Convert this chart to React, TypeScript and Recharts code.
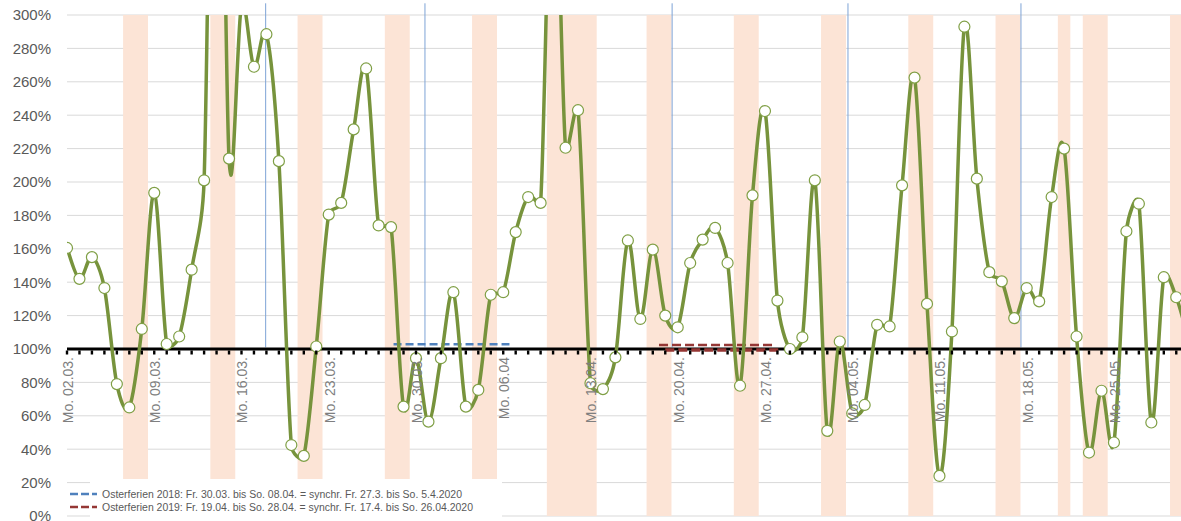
import React from "react";
import {
  ComposedChart,
  Line,
  XAxis,
  YAxis,
  CartesianGrid,
  ReferenceArea,
  ReferenceLine,
} from "recharts";

// chart box
const W = 1181;
const H = 521;
const TOP = 15;
const BOTTOM_GAP = 5;
const Y_AXIS_W = 67;
const PLOT_H = H - TOP - BOTTOM_GAP;
const Y_MAX = 300;
const AXIS_CROSS = 100; // x axis crosses at 100 %
const X_MAX = 89.38; // visible day window (chart is cut at the right)

const FONT = "'Liberation Sans', Arial, sans-serif";

// daily ratio in %, day 0 = Mo. 02.03.2020
const ratio = [
  160.5, 142, 155, 136.5, 79, 65, 112, 193.5, 103, 107.5, 147.5, 201, 600, 214,
  306, 269, 288.5, 212.5, 42.5, 36, 101.5, 180.5, 187.5, 231.5, 268, 174, 173,
  65.5, 94.5, 56.5, 94.5, 134, 65.5, 75.5, 132.5, 134, 170, 191, 187.5, 425,
  220.5, 243, 79.5, 76, 95, 165, 118, 159.5, 120, 113, 151.5, 165.5, 172.5,
  151.5, 78, 192, 242.5, 129, 100, 107, 201, 51, 104.5, 61.5, 66.5, 114.5,
  113.5, 198, 262.5, 127, 24, 110.5, 293, 202, 146, 140.5, 118.5, 136.5, 128.5,
  191, 220, 107.5, 38, 75, 44, 170.5, 187, 56, 143, 131, 105,
];

const mondayLabels = [
  "Mo. 02.03.",
  "Mo. 09.03.",
  "Mo. 16.03.",
  "Mo. 23.03.",
  "Mo. 30.03.",
  "Mo. 06.04",
  "Mo. 13.04.",
  "Mo. 20.04.",
  "Mo. 27.04.",
  "Mo. 04.05.",
  "Mo. 11.05.",
  "Mo. 18.05.",
  "Mo. 25.05.",
];

const yTicks = [0, 20, 40, 60, 80, 100, 120, 140, 160, 180, 200, 220, 240, 260, 280, 300];

// weekends and holidays [first day, last day]
const freeDays = [
  [5, 6], [12, 13], [19, 20], [26, 27], [33, 34], [39, 42], [47, 48],
  [54, 55], [61, 62], [68, 69], [75, 76], [80, 80], [82, 83], [89, 90],
];

// thin blue markers (day position)
const markerDays = [15.94, 28.72, 48.55, 62.66, 76.54];

// synchronised Easter holidays
const easter2018 = { from: 26.2, to: 35.5, level: 102.8 };
const easter2019 = [
  { from: 47.5, to: 56.8, level: 102.4, width: 2.5 },
  { from: 48.0, to: 57.2, level: 99.4, width: 3.5 },
];

const legendItems = [
  {
    color: "#4F81BD",
    text: "Osterferien 2018: Fr. 30.03. bis So. 08.04. = synchr. Fr. 27.3. bis So. 5.4.2020",
    len: 360,
  },
  {
    color: "#953735",
    text: "Osterferien 2019: Fr. 19.04. bis So. 28.04. = synchr. Fr. 17.4. bis So. 26.04.2020",
    len: 371,
  },
];

const data = ratio.map((v, i) => ({ day: i, ratio: v }));
const dayTicks = data.map((d) => d.day).filter((d) => d <= X_MAX);

// Excel-like smoothing: bezier through every point, handles = 1/6 of the
// neighbour chord, but never longer than half of the segment they sit on
const handle = (from: number[], a: number[], b: number[], seg: number[]) => {
  let hx = (b[0] - a[0]) / 6;
  let hy = (b[1] - a[1]) / 6;
  const len = Math.hypot(hx, hy);
  const max = 0.5 * Math.hypot(seg[0] - from[0], seg[1] - from[1]);
  if (len > max && len > 0) {
    hx *= max / len;
    hy *= max / len;
  }
  return [hx, hy];
};

const excelSmooth = (context: any) => {
  let pts: number[][] = [];
  return {
    areaStart() {},
    areaEnd() {},
    lineStart() {
      pts = [];
    },
    point(x: number, y: number) {
      pts.push([+x, +y]);
    },
    lineEnd() {
      if (!pts.length) return;
      context.moveTo(pts[0][0], pts[0][1]);
      for (let i = 0; i < pts.length - 1; i++) {
        const p0 = pts[i - 1] || pts[i];
        const p1 = pts[i];
        const p2 = pts[i + 1];
        const p3 = pts[i + 2] || p2;
        const h1 = handle(p1, p0, p2, p2);
        const h2 = handle(p2, p1, p3, p1);
        context.bezierCurveTo(
          p1[0] + h1[0],
          p1[1] + h1[1],
          p2[0] - h2[0],
          p2[1] - h2[1],
          p2[0],
          p2[1]
        );
      }
    },
  };
};

const DayTick = (props: any) => {
  const { x, y, payload } = props;
  const day = payload.value;
  const yc = y - (PLOT_H * AXIS_CROSS) / Y_MAX;
  const label = day % 7 === 0 ? mondayLabels[day / 7] : null;
  return (
    <g>
      <rect x={x - 1.2} y={yc + 1.5} width={2.4} height={4} fill="#000" />
      {label && (
        <text
          transform={`translate(${x + 6},${yc + 8}) rotate(-90)`}
          textAnchor="end"
          fontSize={14}
          fontFamily={FONT}
          fill="#7F7F7F"
        >
          {label}
        </text>
      )}
    </g>
  );
};

const App = () => {
  return (
    <div style={{ position: "absolute", left: 0, top: 0, width: W, height: H, background: "#fff" }}>
      <ComposedChart
        width={W}
        height={H}
        data={data}
        margin={{ top: TOP, right: 0, bottom: 0, left: 0 }}
      >
        <CartesianGrid vertical={false} stroke="#D9D9D9" strokeWidth={1} />
        {freeDays.map(([a, b]) => (
          <ReferenceArea
            key={`f${a}`}
            x1={a - 0.5}
            x2={b + 0.5}
            y1={0}
            y2={Y_MAX}
            fill="#FCE4D6"
            fillOpacity={1}
            stroke="none"
            ifOverflow="hidden"
          />
        ))}
        <XAxis
          dataKey="day"
          type="number"
          domain={[0, X_MAX]}
          allowDataOverflow
          ticks={dayTicks}
          interval={0}
          height={BOTTOM_GAP}
          axisLine={false}
          tickLine={false}
          tickSize={0}
          tickMargin={0}
          tick={<DayTick />}
        />
        <YAxis
          type="number"
          domain={[0, Y_MAX]}
          allowDataOverflow
          ticks={yTicks}
          interval={0}
          width={Y_AXIS_W}
          axisLine={false}
          tickLine={false}
          tickSize={0}
          tickMargin={16}
          tickFormatter={(v) => `${v}%`}
          tick={{ fontSize: 15, fill: "#595959", fontFamily: FONT }}
        />
        {markerDays.map((d) => (
          <ReferenceLine
            key={`m${d}`}
            segment={[
              { x: d, y: 101 },
              { x: d, y: 307 },
            ]}
            stroke="#7DA3D6"
            strokeWidth={1}
            ifOverflow="visible"
          />
        ))}
        <ReferenceLine y={AXIS_CROSS} stroke="#000" strokeWidth={3} />
        <ReferenceLine
          segment={[
            { x: easter2018.from, y: easter2018.level },
            { x: easter2018.to, y: easter2018.level },
          ]}
          stroke="#4F81BD"
          strokeWidth={2.5}
          strokeDasharray="8 4"
          ifOverflow="visible"
        />
        {easter2019.map((s, i) => (
          <ReferenceLine
            key={`e${i}`}
            segment={[
              { x: s.from, y: s.level },
              { x: s.to, y: s.level },
            ]}
            stroke="#953735"
            strokeWidth={s.width}
            strokeDasharray="9 4"
            ifOverflow="visible"
          />
        ))}
        <Line
          dataKey="ratio"
          type={excelSmooth as any}
          stroke="#77933C"
          strokeWidth={3.5}
          dot={{ r: 5.5, fill: "#fff", stroke: "#7F9F45", strokeWidth: 1.2 }}
          activeDot={false}
          isAnimationActive={false}
        />
      </ComposedChart>
      <svg
        width={W}
        height={H}
        style={{ position: "absolute", left: 0, top: 0, pointerEvents: "none" }}
      >
        <rect x={90} y={479} width={412} height={H - 479} fill="#fff" />
        {legendItems.map((item, i) => {
          const cy = 494 + i * 13;
          return (
            <g key={item.text}>
              <line
                x1={70}
                x2={97}
                y1={cy}
                y2={cy}
                stroke={item.color}
                strokeWidth={2.5}
                strokeDasharray="8 3"
              />
              <text
                x={102}
                y={cy + 3.5}
                fontSize={10}
                fontFamily={FONT}
                fill="#595959"
                textLength={item.len}
                lengthAdjust="spacingAndGlyphs"
              >
                {item.text}
              </text>
            </g>
          );
        })}
      </svg>
    </div>
  );
};

export default App;
